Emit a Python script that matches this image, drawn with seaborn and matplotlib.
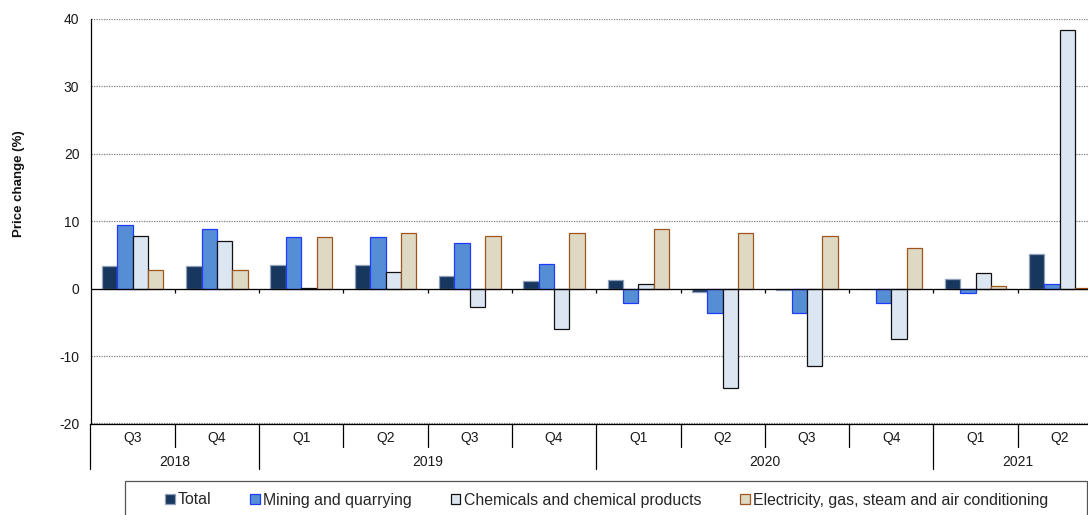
import pandas as pd
import matplotlib.pyplot as plt
import matplotlib.transforms as mtransforms
from matplotlib.patches import Patch, Rectangle
import seaborn as sns

# Chart data
years = ["2018", "2018", "2019", "2019", "2019", "2019",
         "2020", "2020", "2020", "2020", "2021", "2021"]
quarters = ["Q3", "Q4", "Q1", "Q2", "Q3", "Q4", "Q1", "Q2", "Q3", "Q4", "Q1", "Q2"]
series = ["Total", "Mining and quarrying", "Chemicals and chemical products",
          "Electricity, gas, steam and air conditioning"]
total = [3.3, 3.4, 3.45, 3.45, 1.9, 1.2, 1.3, -0.5, -0.25, 0.0, 1.5, 5.2]
mining = [9.4, 8.8, 7.65, 7.65, 6.7, 3.65, -2.1, -3.55, -3.65, -2.1, -0.6, 0.75]
chemicals = [7.75, 7.1, 0.15, 2.5, -2.7, -6.0, 0.75, -14.7, -11.5, -7.4, 2.3, 38.4]
electricity = [2.7, 2.8, 7.65, 8.3, 7.75, 8.3, 8.9, 8.2, 7.8, 6.1, 0.35, 0.15]
year_labels = ["2018", "2019", "2020", "2021"]
y_ticks = [-20, -10, 0, 10, 20, 30, 40]

fills = ["#17375E", "#558ED5", "#DCE6F2", "#DDD9C3"]
edges = ["#8FA0B8", "#1F3BFF", "#111111", "#A0541E"]

# Long table for seaborn
periods = [y + " " + q for y, q in zip(years, quarters)]
rows = []
for name, vals in zip(series, [total, mining, chemicals, electricity]):
    for p, v in zip(periods, vals):
        rows.append({"period": p, "series": name, "value": v})
df = pd.DataFrame(rows)

sns.set_theme(style="white")
plt.rcParams["font.family"] = ["Liberation Sans", "DejaVu Sans"]

W, H = 1088, 515
fig = plt.figure(figsize=(W / 100, H / 100), dpi=100)
ax_left, ax_right, ax_top, ax_bot = 90.5, 1102, 19, 423.5
ax = fig.add_axes([ax_left / W, 1 - ax_bot / H, (ax_right - ax_left) / W, (ax_bot - ax_top) / H])

sns.barplot(data=df, x="period", y="value", hue="series", order=periods,
            hue_order=series, palette=fills, saturation=1, width=0.73,
            legend=False, ax=ax, zorder=3)

for cont, ec in zip(ax.containers, edges):
    for bar in cont:
        bar.set_edgecolor(ec)
        bar.set_linewidth(0.9)

n = len(periods)
ax.set_xlim(-0.5, n - 0.5)
ax.set_ylim(-20, 40)
ax.set_yticks(y_ticks)
ax.set_yticklabels([str(t) for t in y_ticks], fontsize=10, color="#1a1a1a")
ax.tick_params(axis="y", length=0, pad=8)
ax.set_xticks([])
ax.set_xlabel("")
ax.set_ylabel("")

ax.yaxis.grid(True, linestyle=(0, (1, 1)), color="#808080", linewidth=0.9)
ax.set_axisbelow(True)
for s in ["top", "right"]:
    ax.spines[s].set_visible(False)
for s in ["left", "bottom"]:
    ax.spines[s].set_color("black")
    ax.spines[s].set_linewidth(0.9)

# zero line with small ticks at group boundaries
ax.axhline(0, color="black", linewidth=0.9, zorder=4)
bounds = [i - 0.5 for i in range(1, n)]
ax.vlines(bounds, -0.6, 0, color="black", linewidth=0.9, zorder=4)

# hierarchical category axis
trans = mtransforms.blended_transform_factory(ax.transData, ax.transAxes)
q_sep, y_sep = -0.0573, -0.1123
year_starts = [i for i in range(n) if i == 0 or years[i] != years[i - 1]]
for i in range(n + 1):
    x = i - 0.5
    bottom = y_sep if (i in year_starts or i == n) else q_sep
    ax.plot([x, x], [0, bottom], transform=trans, color="black",
            linewidth=0.9, clip_on=False)
for i, q in enumerate(quarters):
    ax.text(i, -0.0358, q, transform=trans, ha="center", va="center",
            fontsize=10, color="#1a1a1a")
for y in year_labels:
    idx = [i for i, v in enumerate(years) if v == y]
    ax.text((idx[0] + idx[-1]) / 2, -0.095, y, transform=trans, ha="center",
            va="center", fontsize=10, color="#1a1a1a")

fig.text(19 / W, 1 - 184 / H, "Price change (%)", rotation=90, ha="center",
         va="center", fontsize=9.5, fontweight="bold", color="#111111")

# legend with a box running off the bottom edge
fig.patches.append(Rectangle((125 / W, 1 - 520 / H), (1087 - 125) / W, (520 - 481) / H,
                             transform=fig.transFigure, facecolor="white",
                             edgecolor="#555555", linewidth=0.9))
handles = [Patch(facecolor=f, edgecolor=e, linewidth=0.9) for f, e in zip(fills, edges)]
fig.legend(handles, series, loc="center left", bbox_to_anchor=(165 / W, 1 - 500 / H),
           ncol=4, frameon=False, fontsize=11.4, handlelength=0.6, handleheight=0.6,
           handletextpad=0.22, columnspacing=2.45, borderpad=0, borderaxespad=0)

fig.savefig("out.png", dpi=100)
